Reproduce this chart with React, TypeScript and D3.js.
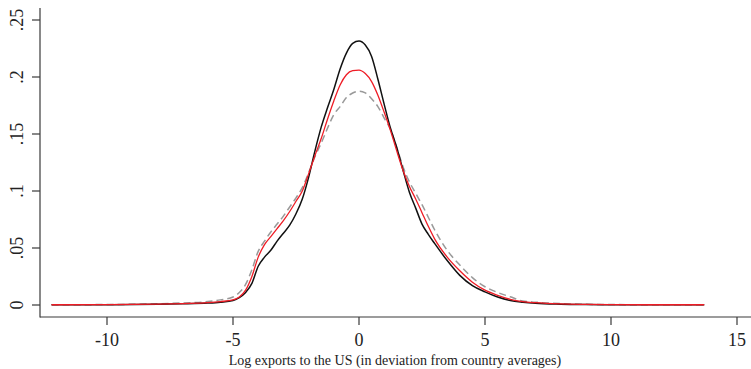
import React from "react";
import * as d3 from "d3";

const xs = [-12.2, -10, -8, -7, -6, -5.5, -5, -4.75, -4.5, -4.25, -4, -3.75, -3.5, -3.25, -3, -2.75, -2.5, -2.25, -2, -1.75, -1.5, -1.25, -1, -0.75, -0.5, -0.25, 0, 0.25, 0.5, 0.75, 1, 1.25, 1.5, 1.75, 2, 2.25, 2.5, 2.75, 3, 3.5, 4, 4.5, 5, 5.5, 6, 6.5, 7, 8, 9, 10, 12, 13.7];

const blackSeries = [0.0002, 0.0003, 0.0006, 0.001, 0.0017, 0.0025, 0.004, 0.0065, 0.011, 0.019, 0.034, 0.042, 0.048, 0.056, 0.063, 0.070, 0.080, 0.093, 0.112, 0.135, 0.156, 0.173, 0.189, 0.207, 0.221, 0.2295, 0.2315, 0.228, 0.218, 0.198, 0.176, 0.155, 0.138, 0.118, 0.099, 0.085, 0.071, 0.062, 0.054, 0.039, 0.026, 0.017, 0.0115, 0.007, 0.004, 0.0025, 0.0015, 0.0007, 0.0004, 0.0003, 0.0002, 0.0002];

const redSeries = [0.0002, 0.0003, 0.0007, 0.0012, 0.002, 0.003, 0.0045, 0.007, 0.013, 0.025, 0.042, 0.053, 0.060, 0.067, 0.074, 0.082, 0.091, 0.100, 0.115, 0.131, 0.146, 0.163, 0.179, 0.193, 0.202, 0.2055, 0.206, 0.203, 0.196, 0.184, 0.169, 0.153, 0.135, 0.118, 0.104, 0.093, 0.081, 0.069, 0.058, 0.042, 0.030, 0.020, 0.013, 0.0085, 0.005, 0.003, 0.002, 0.0009, 0.0005, 0.0003, 0.0002, 0.0002];

const graySeries = [0.0002, 0.0004, 0.001, 0.0018, 0.003, 0.0045, 0.007, 0.011, 0.018, 0.031, 0.047, 0.056, 0.064, 0.071, 0.078, 0.086, 0.094, 0.103, 0.116, 0.130, 0.142, 0.155, 0.167, 0.174, 0.182, 0.186, 0.1875, 0.186, 0.181, 0.174, 0.164, 0.154, 0.138, 0.121, 0.108, 0.098, 0.088, 0.077, 0.066, 0.048, 0.035, 0.024, 0.016, 0.011, 0.0072, 0.0035, 0.0025, 0.0012, 0.0006, 0.0004, 0.0002, 0.0002];

const xTicks = [-10, -5, 0, 5, 10, 15];
const yTicks = [0, 0.05, 0.1, 0.15, 0.2, 0.25];
const yTickLabels = ["0", ".05", ".1", ".15", ".2", ".25"];
const xTitle = "Log exports to the US (in deviation from country averages)";

export default function App() {
  const W = 751, H = 369;
  const x = d3.scaleLinear().domain([0, 5]).range([359, 485]);
  const y = d3.scaleLinear().domain([0, 0.25]).range([305, 20]);
  const axisX = 40, axisY = 317;
  const line = (vals: number[]) =>
    d3.line<number>()
      .x((_, i) => x(xs[i]))
      .y((d) => y(d))
      .curve(d3.curveMonotoneX)(vals) || "";
  const font = "'Liberation Serif', 'Times New Roman', serif";
  const axisColor = "#3a3a3a";
  return (
    <svg width={W} height={H} style={{ position: "absolute", left: 0, top: 0 }}>
      <rect x={0} y={0} width={W} height={H} fill="#fff" />
      <line x1={axisX} x2={axisX} y1={8} y2={axisY + 0.5} stroke={axisColor} strokeWidth={1.2} />
      <line x1={axisX} x2={751} y1={axisY} y2={axisY} stroke={axisColor} strokeWidth={1.2} />
      {yTicks.map((t, i) => (
        <g key={"y" + i}>
          <line x1={32} x2={axisX} y1={y(t)} y2={y(t)} stroke={axisColor} strokeWidth={1.2} />
          <text
            transform={`translate(23,${y(t)}) rotate(-90)`}
            textAnchor="middle"
            fontFamily={font}
            fontSize={18}
            fill="#222"
          >
            {yTickLabels[i]}
          </text>
        </g>
      ))}
      {xTicks.map((t) => (
        <g key={"x" + t}>
          <line x1={x(t)} x2={x(t)} y1={axisY} y2={axisY + 8} stroke={axisColor} strokeWidth={1.2} />
          <text x={x(t)} y={346} textAnchor="middle" fontFamily={font} fontSize={18} fill="#222">
            {t}
          </text>
        </g>
      ))}
      <text x={395} y={365} textAnchor="middle" fontFamily={font} fontSize={14} fill="#222">
        {xTitle}
      </text>
      <path d={line(graySeries)} fill="none" stroke="#999999" strokeWidth={1.5} strokeDasharray="7 4" />
      <path d={line(blackSeries)} fill="none" stroke="#111111" strokeWidth={1.5} />
      <path d={line(redSeries)} fill="none" stroke="#ee1c25" strokeWidth={1.3} />
    </svg>
  );
}
